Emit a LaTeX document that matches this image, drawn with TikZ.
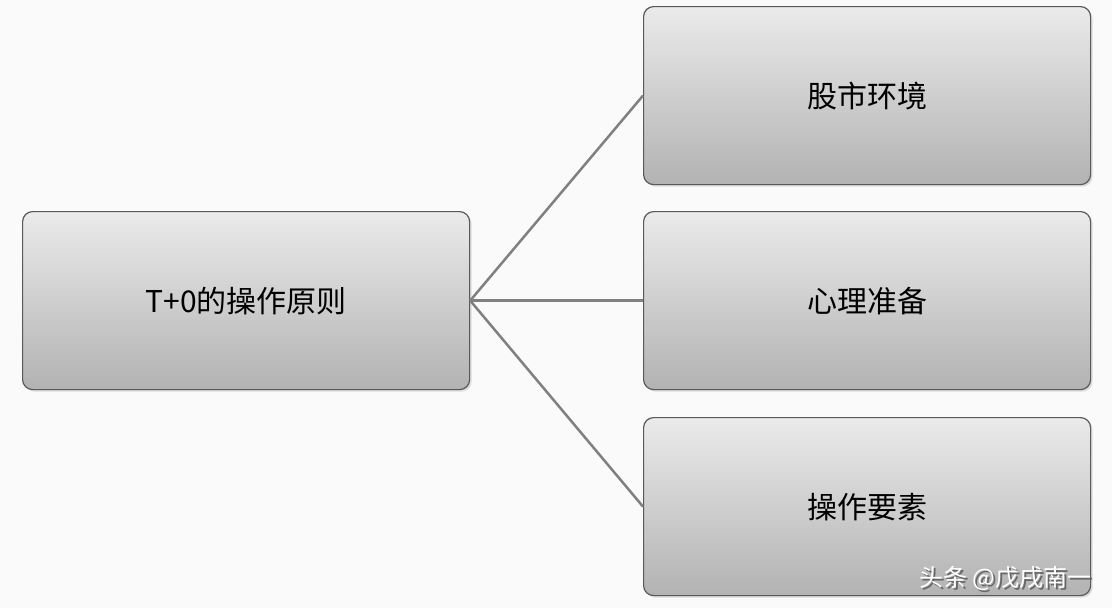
\documentclass[tikz,border=0pt]{standalone}
\usepackage{fontspec}
\newfontfamily\cjk{Noto Sans CJK SC}
\newfontfamily\cjklight{Noto Sans CJK SC Light}
\usetikzlibrary{shadows}
\begin{document}
\begin{tikzpicture}[x=1pt,y=-1pt,
 box/.style={draw=black!65,line width=1.2pt,rounded corners=10pt,minimum width=447pt,minimum height=178pt,
  top color=black!8,bottom color=black!30,anchor=north west,font=\cjk\fontsize{30}{32}\selectfont,
  drop shadow={shadow xshift=2pt,shadow yshift=-2pt,fill=black!25}},
 conn/.style={draw=black!50,line width=2.5pt},
 wmark/.style={font=\cjk\fontsize{24}{26}\selectfont,anchor=east}]
\fill[black!2] (0,0) rectangle (1112,608);
\useasboundingbox (0,0) rectangle (1112,608);
\node[box] (root) at (22,211) {T+0的操作原则};
\node[box] (a) at (643,6) {股市环境};
\node[box] (b) at (643,211) {心理准备};
\node[box] (c) at (643,417) {操作要素};
\draw[conn] (root.east) -- (a.west);
\draw[conn] (root.east) -- (b.west);
\draw[conn] (root.east) -- (c.west);
\node[wmark,text=black!60] (wms) at (1097,580) {头条 @戊戌南一};
\node[wmark,text=white] (wm) at (1095,578) {头条 @戊戌南一};
\end{tikzpicture}
\end{document}
